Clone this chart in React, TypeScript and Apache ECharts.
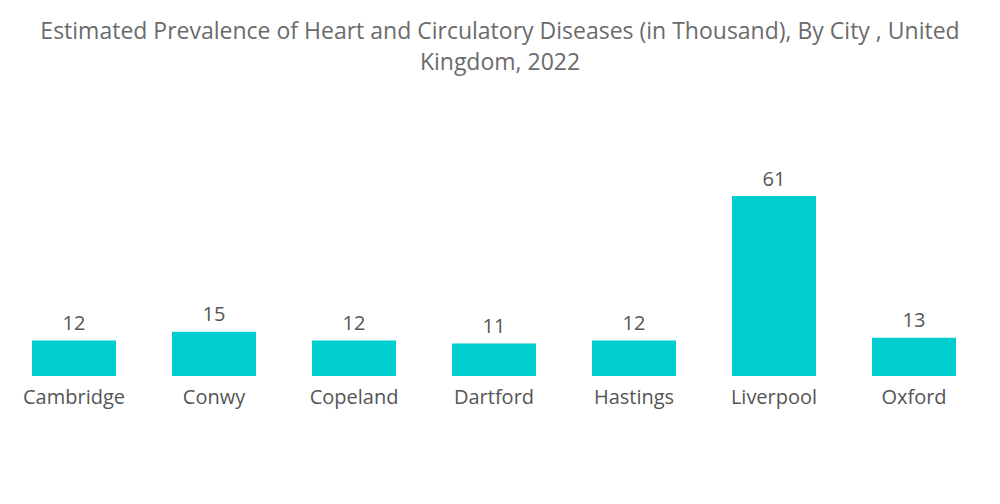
import React, { useEffect, useRef } from "react";
import * as echarts from "echarts";

const categories = ["Cambridge", "Conwy", "Copeland", "Dartford", "Hastings", "Liverpool", "Oxford"];
const values = [12, 15, 12, 11, 12, 61, 13];
const titleText =
  "Estimated Prevalence of Heart and Circulatory Diseases (in Thousand), By City , United\nKingdom, 2022";

const FONT = "Open Sans";

export default function App() {
  const ref = useRef<HTMLDivElement>(null);
  useEffect(() => {
    if (!ref.current) return;
    const chart = echarts.init(ref.current, null, { renderer: "svg" });
    chart.setOption({
      animation: false,
      backgroundColor: "#ffffff",
      title: {
        text: titleText,
        left: "center",
        top: 9,
        textStyle: {
          fontFamily: FONT,
          fontWeight: "normal",
          fontSize: 23,
          color: "#6b6b6b",
          lineHeight: 31,
        },
      },
      grid: { left: 4, right: 16, top: 196, bottom: 128, containLabel: false },
      xAxis: {
        type: "category",
        data: categories,
        axisLine: { show: false },
        axisTick: { show: false },
        axisLabel: {
          fontFamily: FONT,
          fontSize: 20,
          color: "#555555",
          margin: 10,
        },
      },
      yAxis: {
        type: "value",
        min: 0,
        max: 61,
        show: false,
        splitLine: { show: false },
      },
      series: [
        {
          type: "bar",
          data: values,
          barWidth: "60%",
          itemStyle: { color: "#00CED1" },
          label: {
            show: true,
            position: "top",
            distance: 8,
            fontFamily: FONT,
            fontSize: 20,
            color: "#555555",
          },
        },
      ],
    });
    return () => chart.dispose();
  }, []);
  return (
    <div
      ref={ref}
      style={{ position: "absolute", left: 0, top: 0, width: 1000, height: 504 }}
    />
  );
}
